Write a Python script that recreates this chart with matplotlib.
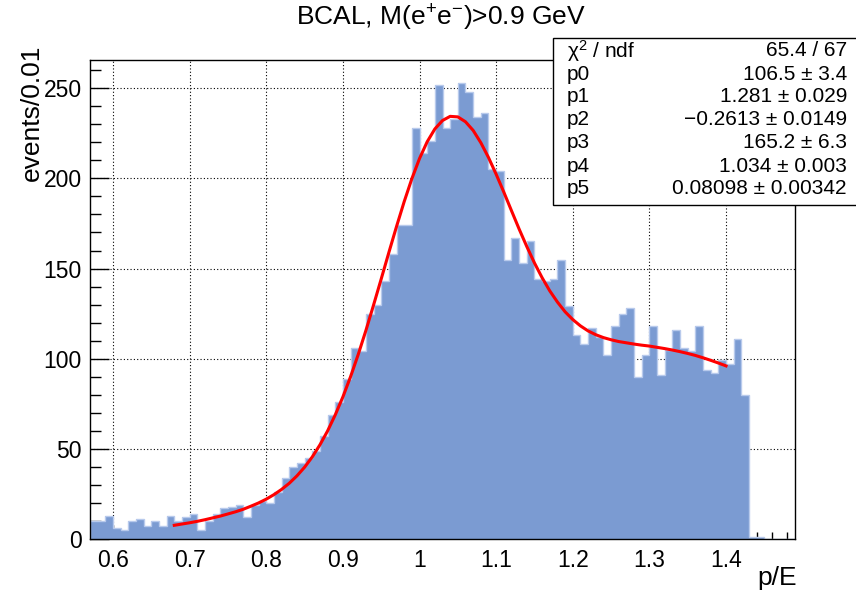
import matplotlib
matplotlib.use('Agg')
import matplotlib.pyplot as plt
from matplotlib.ticker import MultipleLocator, FormatStrFormatter
from matplotlib.patches import Rectangle
import numpy as np

plt.rcParams['font.family'] = ['Liberation Sans', 'DejaVu Sans']
plt.rcParams['mathtext.fontset'] = 'custom'
plt.rcParams['mathtext.rm'] = 'Liberation Sans'
plt.rcParams['mathtext.it'] = 'Liberation Sans:italic'

# histogram: p/E, bin width 0.01 starting at 0.57
x_lo = 0.57
bin_w = 0.01
counts = [10, 10, 13, 6, 5, 10, 11, 7, 10, 7,
          13, 10, 12, 14, 5, 10, 14, 17, 18, 19,
          12, 19, 21, 20, 26, 34, 40, 42, 45, 49,
          57, 69, 76, 89, 106, 104, 125, 130, 143, 158,
          174, 174, 228, 214, 221, 252, 228, 233, 253, 248,
          234, 236, 205, 204, 155, 167, 153, 165, 144, 143,
          144, 155, 129, 113, 108, 117, 112, 102, 118, 125,
          128, 90, 102, 118, 91, 105, 116, 106, 104, 118,
          94, 92, 99, 97, 111, 80, 1, 1, 0, 0,
          0, 0]

# fit curve (0.68 .. 1.40, step 0.01)
fit_x = [0.68, 0.69, 0.70, 0.71, 0.72, 0.73, 0.74, 0.75, 0.76, 0.77,
         0.78, 0.79, 0.80, 0.81, 0.82, 0.83, 0.84, 0.85, 0.86, 0.87,
         0.88, 0.89, 0.90, 0.91, 0.92, 0.93, 0.94, 0.95, 0.96, 0.97,
         0.98, 0.99, 1.00, 1.01, 1.02, 1.03, 1.04, 1.05, 1.06, 1.07,
         1.08, 1.09, 1.10, 1.11, 1.12, 1.13, 1.14, 1.15, 1.16, 1.17,
         1.18, 1.19, 1.20, 1.21, 1.22, 1.23, 1.24, 1.25, 1.26, 1.27,
         1.28, 1.29, 1.30, 1.31, 1.32, 1.33, 1.34, 1.35, 1.36, 1.37,
         1.38, 1.39, 1.40]
fit_y = [7.6, 8.3, 9.0, 9.8, 10.7, 11.7, 12.7, 13.9, 15.1, 16.5,
         18.2, 20.0, 22.1, 24.6, 27.5, 30.9, 35.0, 39.8, 45.5, 52.2,
         59.9, 68.8, 78.8, 90.0, 102.3, 115.6, 129.7, 144.2, 158.9, 173.3,
         187.1, 199.8, 211.0, 220.3, 227.4, 232.1, 234.4, 234.1, 231.4, 226.6,
         219.8, 211.6, 202.3, 192.4, 182.1, 171.9, 162.2, 153.1, 144.9, 137.6,
         131.4, 126.0, 121.7, 118.2, 115.4, 113.3, 111.7, 110.5, 109.5, 108.8,
         108.1, 107.5, 107.0, 106.3, 105.6, 104.8, 103.9, 102.9, 101.8, 100.5,
         99.1, 97.6, 96.0]

stat_names = ['\u03c7$^{2}$ / ndf', 'p0', 'p1', 'p2', 'p3', 'p4', 'p5']
stat_values = ['65.4 / 67', '106.5 \u00b1 3.4', '1.281 \u00b1 0.029',
               '\u22120.2613 \u00b1 0.0149', '165.2 \u00b1 6.3',
               '1.034 \u00b1 0.003', '0.08098 \u00b1 0.00342']

title = 'BCAL, M(e$^{+}$e$^{-}$)>0.9 GeV'
xlabel = 'p/E'
ylabel = 'events/0.01'

W, H = 856, 596
fill_color = '#7b9bd2'
edge_color = '#b8caec'


def main():
    fig = plt.figure(figsize=(W/100, H/100), dpi=100)
    ax = fig.add_axes([90/W, 1-539/H, (795-90)/W, (539-60)/H])

    edges = x_lo + bin_w*np.arange(len(counts)+1)
    ax.stairs(counts, edges, fill=True, color=fill_color, zorder=2)
    ax.stairs(counts, edges, color=edge_color, lw=1, zorder=2)
    ax.plot(fit_x, fit_y, color='#ff0000', lw=2.2, zorder=3, solid_joinstyle='round')

    ax.set_xlim(0.57, 1.49)
    ax.set_ylim(0, max(counts)*1.05)

    ax.xaxis.set_major_locator(MultipleLocator(0.1))
    ax.xaxis.set_minor_locator(MultipleLocator(0.02))
    ax.xaxis.set_major_formatter(FormatStrFormatter('%g'))
    ax.yaxis.set_major_locator(MultipleLocator(50))
    ax.yaxis.set_minor_locator(MultipleLocator(10))
    ax.tick_params(which='both', direction='in', top=False, right=False, width=1)
    ax.tick_params(axis='x', which='major', length=10, labelsize=16.5, pad=7)
    ax.tick_params(axis='x', which='minor', length=5)
    ax.tick_params(axis='y', which='major', length=14, labelsize=16.5, pad=6)
    ax.tick_params(axis='y', which='minor', length=8)
    for s in ax.spines.values():
        s.set_linewidth(1)

    # dotted grid behind the histogram
    for xv in ax.get_xticks():
        if 0.57 < xv < 1.49:
            ax.axvline(xv, color='black', ls=(0, (1, 2)), lw=0.8, zorder=1)
    for yv in ax.get_yticks():
        if 0 < yv < max(counts)*1.05:
            ax.axhline(yv, color='black', ls=(0, (1, 2)), lw=0.8, zorder=1)

    fig.text(441/W, 1-18/H, title, ha='center', va='center', fontsize=19)
    fig.text(32/W, 1-45/H, ylabel, rotation=90, ha='center', va='top', fontsize=19)
    fig.text(797/W, 1-578/H, xlabel, ha='right', va='center', fontsize=19)

    # fit statistics box
    box = Rectangle((553/W, 1-205/H), (862-553)/W, (205-38)/H,
                    transform=fig.transFigure, facecolor='white',
                    edgecolor='black', lw=1, zorder=5)
    fig.add_artist(box)
    for i in range(len(stat_names)):
        yy = 1-(51+23*i)/H
        fig.text(567/W, yy, stat_names[i], ha='left', va='center', fontsize=15, zorder=6)
        fig.text(847/W, yy, stat_values[i], ha='right', va='center', fontsize=15, zorder=6)

    fig.savefig('out.png', dpi=100)
    print("Saved figure to -> out.png")


if __name__ == '__main__':
    main()
